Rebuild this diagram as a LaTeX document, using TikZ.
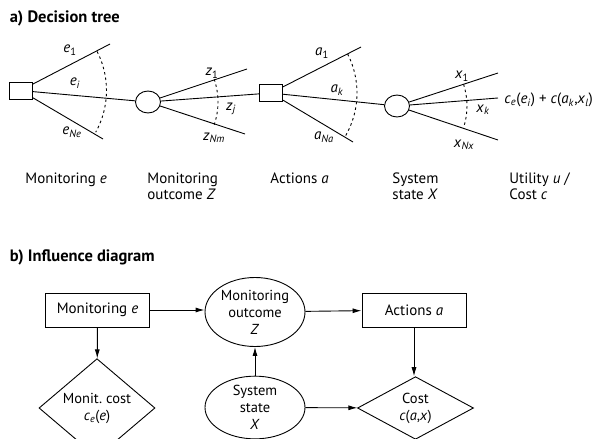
\documentclass[tikz,border=0pt]{standalone}
\usepackage{fontspec}
\setmainfont{PT Sans}
\usetikzlibrary{shapes.geometric,arrows.meta,calc}

\begin{document}
\begin{tikzpicture}[x=1pt,y=-1pt,font=\fontsize{15}{16}\selectfont,
  line width=0.9pt,
  decnode/.style={draw,rectangle,inner sep=0pt,minimum width=23pt,minimum height=17pt},
  chancenode/.style={draw,ellipse,inner sep=0pt,minimum width=25pt,minimum height=22pt},
  lab/.style={inner sep=1pt},
  fan/.style={dash pattern=on 2.5pt off 3pt},
  title/.style={anchor=west,font=\fontsize{16.5}{18}\selectfont\bfseries},
  box/.style={draw,rectangle,minimum width=104pt,minimum height=34pt},
  oval/.style={draw,ellipse,inner sep=0pt,minimum width=100pt,align=center,font=\fontsize{14.5}{17}\selectfont},
  util/.style={draw,diamond,inner sep=0pt,minimum width=116pt,minimum height=60pt,align=center,font=\fontsize{14.5}{17}\selectfont},
  link/.style={-{Latex[length=9pt,width=5pt]}}]
\useasboundingbox (0,0) rectangle (592,439);

% a) decision tree
\node[title] (ta) at (6,18) {a) Decision tree};

\node[decnode] (s1) at (20.5,90.5) {};
\node[chancenode] (c1) at (148,102) {};
\node[decnode] (s2) at (271,93) {};
\node[chancenode] (c2) at (397,106) {};

\coordinate (e1) at (110,44);
\coordinate (eN) at (103,139);
\coordinate (z1) at (247,69);
\coordinate (zN) at (245,134);
\coordinate (a1) at (361,47);
\coordinate (aN) at (353,142);
\coordinate (x1) at (498,73);
\coordinate (xk) at (498,98);
\coordinate (xN) at (498,140);

\draw (s1) -- (e1);
\draw (s1) -- (c1);
\draw (s1) -- (eN);
\draw (c1) -- (z1);
\draw (c1) -- (s2);
\draw (c1) -- (zN);
\draw (s2) -- (a1);
\draw (s2) -- (c2);
\draw (s2) -- (aN);
\draw (c2) -- (x1);
\draw (c2) -- (xk);
\draw (c2) -- (xN);

\draw[fan] ($(s1.center)+(-27:86)$) arc[start angle=-27, end angle=29, radius=86];
\draw[fan] ($(c1.center)+(-19:70)$) arc[start angle=-19, end angle=19, radius=70];
\draw[fan] ($(s2.center)+(-27:86)$) arc[start angle=-27, end angle=30, radius=86];
\draw[fan] ($(c2.center)+(-18:70)$) arc[start angle=-18, end angle=18, radius=70];

\node[lab] (le1) at (70,50) {\textit{e}\textsubscript{1}};
\node[lab] (lei) at (75,83) {\textit{e}\textsubscript{\textit{i}}};
\node[lab] (leN) at (72,132) {\textit{e}\textsubscript{\textit{Ne}}};
\node[lab] (lz1) at (212,73) {\textit{z}\textsubscript{1}};
\node[lab] (lzj) at (231,109) {\textit{z}\textsubscript{\textit{j}}};
\node[lab] (lzN) at (214,138) {\textit{z}\textsubscript{\textit{Nm}}};
\node[lab] (la1) at (322,53) {\textit{a}\textsubscript{1}};
\node[lab] (lak) at (337,90) {\textit{a}\textsubscript{\textit{k}}};
\node[lab] (laN) at (324,137) {\textit{a}\textsubscript{\textit{Na}}};
\node[lab] (lx1) at (462,76) {\textit{x}\textsubscript{1}};
\node[lab] (lxk) at (483,110) {\textit{x}\textsubscript{\textit{k}}};
\node[lab] (lxN) at (464,145) {\textit{x}\textsubscript{\textit{Nx}}};

\node[anchor=west,inner sep=0pt] (cost) at (504,100)
  {\textit{c}\textsubscript{\textit{e}}(\textit{e}\textsubscript{\textit{i}}) + \textit{c}(\textit{a}\textsubscript{\textit{k}},\textit{x}\textsubscript{\textit{l}})};

\node[anchor=north west,align=left,inner sep=0pt] (nmon) at (25,172) {Monitoring \textit{e}};
\node[anchor=north west,align=left,inner sep=0pt] (nout) at (147,172) {Monitoring\\outcome \textit{Z}};
\node[anchor=north west,align=left,inner sep=0pt] (nact) at (270,172) {Actions \textit{a}};
\node[anchor=north west,align=left,inner sep=0pt] (nsys) at (392,172) {System\\state \textit{X}};
\node[anchor=north west,align=left,inner sep=0pt] (nutil) at (509,172) {Utility \textit{u} /\\Cost \textit{c}};

% b) influence diagram
\node[title] (tb) at (6,257) {b) Influence diagram};

\node[box] (mon) at (97.5,310) {Monitoring \textit{e}};
\node[oval,minimum height=69pt] (out) at (255,312) {Monitoring\\outcome\\\textit{Z}};
\node[box] (act) at (414,310) {Actions \textit{a}};
\node[util] (mcost) at (97,408) {Monit.\ cost\\\textit{c}\textsubscript{\textit{e}}(\textit{e})};
\node[oval,minimum height=61pt] (sys) at (255,407.5) {System\\state\\\textit{X}};
\node[util] (ccost) at (415.5,408) {Cost\\\textit{c}(\textit{a},\textit{x})};

\draw[link] (mon) -- (mon -| out.west);
\draw[link] (out) -- (act);
\draw[link] (mon) -- (mcost);
\draw[link] (sys) -- (out);
\draw[link] (act) -- (act |- ccost.north);
\draw[link] (sys) -- (ccost);
\end{tikzpicture}
\end{document}
